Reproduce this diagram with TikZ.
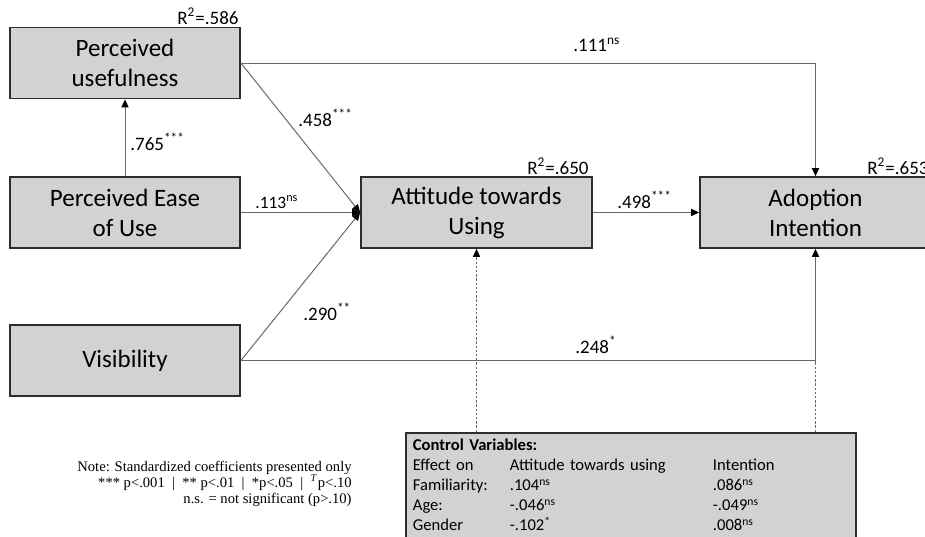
\documentclass[tikz,border=0pt]{standalone}
\usepackage{fontspec}
\setmainfont{Carlito}
\newfontfamily\notefont{Liberation Serif}
\usepackage{xcolor}
\usetikzlibrary{arrows.meta}

\definecolor{boxfill}{RGB}{210,210,210}
\definecolor{boxline}{RGB}{45,45,45}
\definecolor{linegray}{RGB}{105,105,105}

\begin{document}
\begin{tikzpicture}[x=0.5pt, y=-0.5pt,
		construct/.style={draw=boxline, fill=boxfill, line width=0.9pt, align=center,
			minimum width=115pt, minimum height=35.5pt, inner sep=0pt,
			font=\fontsize{12.5}{15}\selectfont},
		coef/.style={anchor=west, inner sep=0pt, font=\fontsize{9.5}{11}\selectfont},
		rsq/.style={inner sep=0pt, font=\fontsize{9.5}{11}\selectfont},
		link/.style={draw=linegray, line width=0.5pt},
		tip/.style={-{Triangle[length=4pt, width=3.6pt, color=black]}},
		ctrllink/.style={link, dash pattern=on 1.2pt off 0.9pt}]
		\useasboundingbox (0,0) rectangle (925,536);
		
		% constructs
		\node[construct] (pu) at (125,63) {Perceived\\usefulness};
		\node[construct] (peou) at (125,212.5) {Perceived Ease\\of Use};
		\node[construct] (vis) at (125,360.5) {Visibility};
		\node[construct, minimum width=115.5pt] (att) at (476.5,212.5) {Attitude towards\\Using};
		\node[construct, minimum width=115.5pt] (adopt) at (815.5,212.5) {Adoption\\Intention};
		
		% explained variance
		\node[rsq, anchor=east] (rpu) at (239,16) {R\textsuperscript{2}=.586};
		\node[rsq, anchor=east] (ratt) at (589,166) {R\textsuperscript{2}=.650};
		\node[rsq, anchor=west] (radopt) at (867,166) {R\textsuperscript{2}=.653};
		
		% control variables
		\node[draw=boxline, fill=boxfill, line width=0.9pt, anchor=north west,
			text width=218pt, inner xsep=3.5pt, inner ysep=2pt, align=left,
			font=\fontsize{8.3}{10}\selectfont] (ctrl) at (405,432) {%
			\begin{tabular}{@{}p{48.5pt}@{}p{101.5pt}@{}l@{}}
				\multicolumn{3}{@{}l}{\textbf{Control Variables:}}\\
				Effect on & Attitude towards using & Intention\\
				Familiarity: & .104\textsuperscript{ns} & .086\textsuperscript{ns}\\
				Age: & -.046\textsuperscript{ns} & -.049\textsuperscript{ns}\\
				Gender & -.102\textsuperscript{*} & .008\textsuperscript{ns}
			\end{tabular}};
		
		\node[anchor=north east, inner sep=0pt, align=right,
			font=\notefont\fontsize{7.3}{8}\selectfont] (note) at (352,461)
			{Note: Standardized coefficients presented only\\
			*** p<.001 ~|~ ** p<.01 ~|~ *p<.05 ~|~ \textsuperscript{\textit{T}}p<.10\\
			n.s. = not significant (p>.10)};
		
		% paths
		\begin{scope}[link, tip]
			\draw (peou.north) -- (pu.south);
			\draw (pu.east) -- (att.west);
			\draw (peou.east) -- (att.west);
			\draw (vis.east) -- (att.west);
			\draw (att.east) -- (adopt.west);
			\draw (pu.east) -| (adopt.north);
			\draw (vis.east) -| (adopt.south);
		\end{scope}
		
		\coordinate (ctrlatt) at (ctrl.north -| att.south);
		\coordinate (ctrladopt) at (ctrl.north -| adopt.south);
		\draw[ctrllink, tip] (ctrlatt) -- (att.south);
		\draw[ctrllink] (ctrladopt) -- (vis.east -| adopt.south);
		
		% coefficients
		\node[coef] (c1) at (130,142) {.765\textsuperscript{***}};
		\node[coef] (c2) at (298,118) {.458\textsuperscript{***}};
		\node[coef, font=\fontsize{8.7}{10}\selectfont] (c3) at (255,202) {.113\textsuperscript{ns}};
		\node[coef] (c4) at (303,312) {.290\textsuperscript{**}};
		\node[coef] (c5) at (617,200) {.498\textsuperscript{***}};
		\node[coef] (c6) at (573,45) {.111\textsuperscript{ns}};
		\node[coef] (c7) at (575,345) {.248\textsuperscript{*}};
	\end{tikzpicture}
\end{document}
